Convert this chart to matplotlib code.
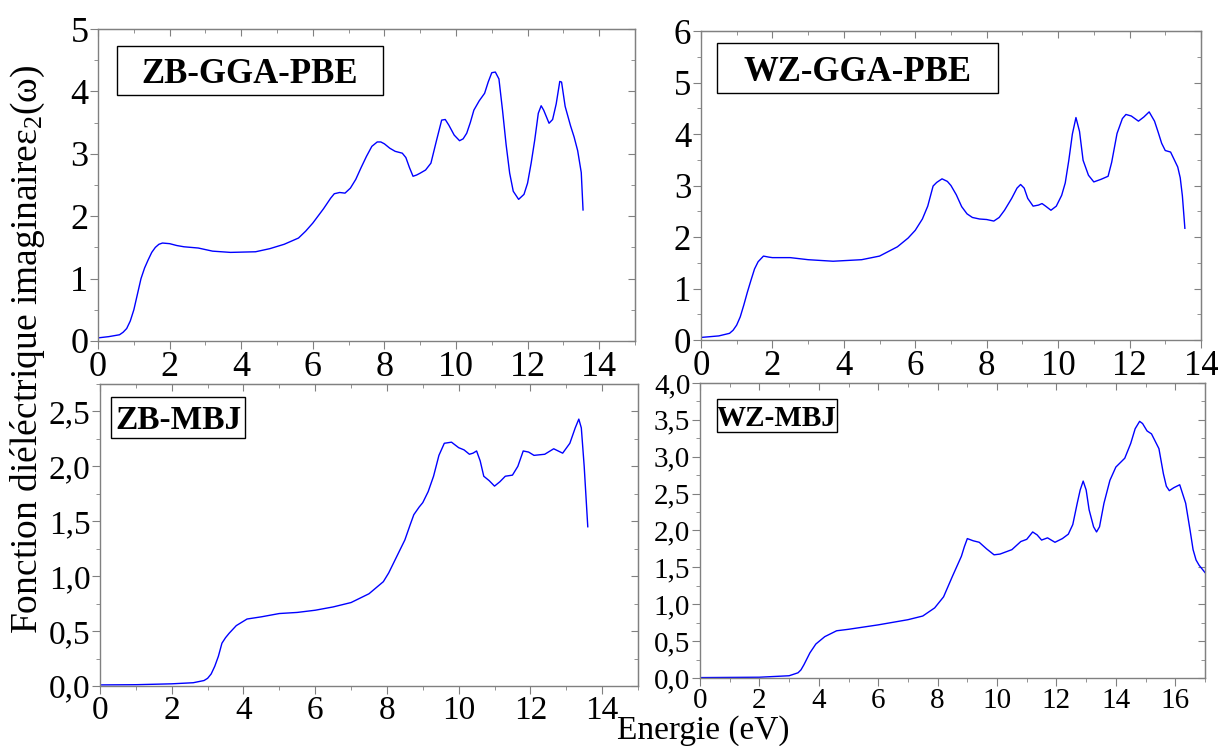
import numpy as np
import matplotlib
matplotlib.use('Agg')
import matplotlib.pyplot as plt
from matplotlib.patches import Rectangle
from matplotlib.ticker import MultipleLocator, FixedLocator

rc = {'font.family': ['Liberation Serif', 'DejaVu Serif'],
      'mathtext.fontset': 'custom', 'mathtext.rm': 'Liberation Serif',
      'mathtext.it': 'Liberation Serif'}
plt.rcParams.update(rc)

# ZB-GGA-PBE
zb_gga_e = [0, 0.3, 0.6, 0.7, 0.8, 0.9, 1.0, 1.1, 1.2, 1.3, 1.4, 1.5, 1.6,
            1.7, 1.8, 2.0, 2.2, 2.4, 2.8, 3.2, 3.7, 4.4, 4.8, 5.2, 5.6, 5.8,
            6.0, 6.3, 6.5, 6.6, 6.75, 6.9, 7.05, 7.2, 7.35, 7.5, 7.65, 7.8,
            7.9, 8.0, 8.15, 8.3, 8.5, 8.6, 8.7, 8.8, 8.9, 9.0, 9.15, 9.3,
            9.45, 9.6, 9.7, 9.8, 9.95, 10.1, 10.2, 10.3, 10.4, 10.5, 10.65,
            10.8, 10.9, 11.0, 11.1, 11.2, 11.3, 11.4, 11.5, 11.6, 11.75, 11.9,
            12.0, 12.1, 12.2, 12.3, 12.38, 12.45, 12.6, 12.7, 12.8, 12.9,
            12.95, 13.05, 13.2, 13.3, 13.4, 13.5, 13.55]
zb_gga_eps = [0.05, 0.07, 0.1, 0.14, 0.2, 0.32, 0.5, 0.75, 1.0, 1.17, 1.3,
              1.42, 1.5, 1.55, 1.57, 1.56, 1.53, 1.51, 1.49, 1.44, 1.42, 1.43,
              1.48, 1.55, 1.65, 1.76, 1.89, 2.12, 2.29, 2.36, 2.38, 2.37, 2.45,
              2.59, 2.78, 2.96, 3.12, 3.19, 3.19, 3.16, 3.09, 3.04, 3.01, 2.94,
              2.78, 2.64, 2.66, 2.69, 2.74, 2.85, 3.2, 3.54, 3.55, 3.46, 3.3,
              3.21, 3.24, 3.33, 3.5, 3.7, 3.85, 3.97, 4.15, 4.3, 4.31, 4.2,
              3.7, 3.15, 2.69, 2.4, 2.27, 2.35, 2.53, 2.85, 3.22, 3.65, 3.77,
              3.7, 3.49, 3.55, 3.8, 4.16, 4.15, 3.76, 3.45, 3.27, 3.05, 2.7,
              2.1]

# WZ-GGA-PBE
wz_gga_e = [0, 0.5, 0.8, 0.9, 1.0, 1.1, 1.2, 1.3, 1.4, 1.5, 1.6, 1.75, 1.9,
            2.0, 2.5, 3.0, 3.7, 4.5, 5.0, 5.5, 5.8, 6.0, 6.2, 6.35, 6.5, 6.6,
            6.75, 6.9, 7.0, 7.15, 7.3, 7.45, 7.6, 7.8, 8.0, 8.2, 8.35, 8.5,
            8.7, 8.85, 8.95, 9.05, 9.15, 9.3, 9.45, 9.55, 9.65, 9.8, 9.95,
            10.1, 10.2, 10.3, 10.4, 10.5, 10.6, 10.7, 10.85, 11.0, 11.2, 11.4,
            11.5, 11.65, 11.8, 11.9, 12.05, 12.25, 12.4, 12.55, 12.7, 12.8,
            12.9, 13.0, 13.15, 13.35, 13.42, 13.48, 13.55]
wz_gga_eps = [0.05, 0.08, 0.13, 0.19, 0.29, 0.45, 0.68, 0.93, 1.16, 1.38,
              1.52, 1.63, 1.61, 1.6, 1.6, 1.56, 1.53, 1.56, 1.63, 1.81, 1.98,
              2.13, 2.35, 2.6, 2.99, 3.06, 3.13, 3.08, 3.0, 2.82, 2.59, 2.45,
              2.38, 2.35, 2.34, 2.31, 2.38, 2.52, 2.75, 2.95, 3.02, 2.95, 2.75,
              2.6, 2.62, 2.65, 2.6, 2.52, 2.6, 2.81, 3.05, 3.49, 4.0, 4.32,
              4.05, 3.49, 3.2, 3.07, 3.12, 3.18, 3.45, 4.01, 4.3, 4.38, 4.35,
              4.25, 4.33, 4.43, 4.25, 4.04, 3.82, 3.68, 3.65, 3.36, 3.15, 2.8,
              2.17]

# ZB-MBJ
zb_mbj_e = [0, 1.0, 2.0, 2.6, 2.9, 3.0, 3.1, 3.2, 3.3, 3.4, 3.5, 3.6, 3.8,
            4.1, 4.5, 5.0, 5.5, 6.0, 6.5, 7.0, 7.5, 7.9, 8.05, 8.2, 8.5, 8.65,
            8.75, 8.9, 9.0, 9.15, 9.3, 9.45, 9.6, 9.8, 10.0, 10.15, 10.3,
            10.4, 10.5, 10.6, 10.7, 10.85, 11.0, 11.15, 11.3, 11.5, 11.65,
            11.8, 11.95, 12.1, 12.4, 12.65, 12.9, 13.1, 13.25, 13.35, 13.42,
            13.5, 13.6]
zb_mbj_eps = [0.01, 0.012, 0.02, 0.03, 0.05, 0.07, 0.11, 0.18, 0.27, 0.39,
              0.44, 0.48, 0.55, 0.61, 0.63, 0.66, 0.67, 0.69, 0.72, 0.76, 0.84,
              0.95, 1.03, 1.13, 1.33, 1.47, 1.56, 1.63, 1.67, 1.77, 1.91, 2.1,
              2.21, 2.22, 2.17, 2.15, 2.11, 2.12, 2.14, 2.05, 1.91, 1.87, 1.82,
              1.86, 1.91, 1.92, 2.0, 2.14, 2.13, 2.1, 2.11, 2.16, 2.12, 2.21,
              2.35, 2.43, 2.35, 2.0, 1.45]

# WZ-MBJ
wz_mbj_e = [0, 2.0, 3.0, 3.3, 3.4, 3.5, 3.6, 3.7, 3.9, 4.2, 4.6, 5.0, 6.0,
            7.0, 7.5, 7.9, 8.2, 8.5, 8.8, 8.9, 9.0, 9.2, 9.4, 9.65, 9.9, 10.1,
            10.3, 10.5, 10.8, 11.0, 11.2, 11.35, 11.5, 11.7, 11.95, 12.2,
            12.4, 12.55, 12.7, 12.8, 12.9, 13.0, 13.1, 13.25, 13.35, 13.45,
            13.6, 13.8, 14.0, 14.3, 14.5, 14.65, 14.8, 14.9, 15.05, 15.2,
            15.45, 15.6, 15.7, 15.8, 15.95, 16.15, 16.35, 16.5, 16.6, 16.7,
            16.8, 17.0]
wz_mbj_eps = [0.005, 0.01, 0.03, 0.07, 0.11, 0.18, 0.26, 0.34, 0.46, 0.56,
              0.64, 0.66, 0.72, 0.79, 0.84, 0.95, 1.1, 1.38, 1.65, 1.78, 1.89,
              1.86, 1.84, 1.75, 1.67, 1.68, 1.71, 1.74, 1.85, 1.88, 1.98, 1.94,
              1.87, 1.9, 1.84, 1.89, 1.95, 2.08, 2.37, 2.55, 2.67, 2.55, 2.28,
              2.05, 1.98, 2.05, 2.37, 2.68, 2.86, 2.98, 3.18, 3.38, 3.48, 3.45,
              3.35, 3.31, 3.11, 2.77, 2.6, 2.54, 2.58, 2.62, 2.37, 2.0, 1.74,
              1.6, 1.53, 1.43]

titles = ['ZB-GGA-PBE', 'WZ-GGA-PBE', 'ZB-MBJ', 'WZ-MBJ']
xticks_14 = [0, 2, 4, 6, 8, 10, 12, 14]
xticks_16 = [0, 2, 4, 6, 8, 10, 12, 14, 16]
yticks_top_left = [0, 1, 2, 3, 4, 5]
yticks_top_right = [0, 1, 2, 3, 4, 5, 6]
yticks_bl = [0.0, 0.5, 1.0, 1.5, 2.0, 2.5]
ylabels_bl = ['0,0', '0,5', '1,0', '1,5', '2,0', '2,5']
yticks_br = [0.0, 0.5, 1.0, 1.5, 2.0, 2.5, 3.0, 3.5, 4.0]
ylabels_br = ['0,0', '0,5', '1,0', '1,5', '2,0', '2,5', '3,0', '3,5', '4,0']

fig = plt.figure(figsize=(12.18, 7.46), dpi=100)
ax_tl = fig.add_axes([0.0805, 0.5429, 0.4408, 0.4182])
ax_tr = fig.add_axes([0.5755, 0.5442, 0.4105, 0.4142])
ax_bl = fig.add_axes([0.0821, 0.0804, 0.4417, 0.4049])
ax_br = fig.add_axes([0.5747, 0.0912, 0.4146, 0.3954])

spine_col = '#808080'


def style_axis(ax, x, y, xlim, ylim, xticks, yticks, ylabels, xminor, yminor,
               fs, title, box, box_fs):
    ax.plot(x, y, color='#0000ff', lw=1.0)
    ax.set_xlim(xlim)
    ax.set_ylim(ylim)
    ax.set_xticks(xticks)
    ax.set_yticks(yticks)
    if ylabels is not None:
        ax.set_yticklabels(ylabels)
    ax.xaxis.set_minor_locator(MultipleLocator(xminor))
    ax.yaxis.set_minor_locator(MultipleLocator(yminor))
    ax.tick_params(which='both', direction='out', color=spine_col,
                   labelsize=fs, pad=1, top=False, right=False)
    ax.tick_params(which='major', length=6)
    ax.tick_params(which='minor', length=3)
    for s in ax.spines.values():
        s.set_color(spine_col)
        s.set_linewidth(1.0)
    # inward ticks on top and right
    top = ax.secondary_xaxis('top')
    top.xaxis.set_major_locator(FixedLocator(xticks))
    top.xaxis.set_minor_locator(MultipleLocator(xminor))
    top.tick_params(which='both', direction='in', color=spine_col,
                    labeltop=False)
    top.tick_params(which='major', length=5)
    top.tick_params(which='minor', length=3)
    top.spines['top'].set_color(spine_col)
    right = ax.secondary_yaxis('right')
    right.yaxis.set_major_locator(FixedLocator(yticks))
    right.yaxis.set_minor_locator(MultipleLocator(yminor))
    right.tick_params(which='both', direction='in', color=spine_col,
                      labelright=False)
    right.tick_params(which='major', length=5)
    right.tick_params(which='minor', length=3)
    right.spines['right'].set_color(spine_col)
    # label box: (x0, y0, x1, y1) in axes fraction
    x0, y0, x1, y1 = box
    ax.add_patch(Rectangle((x0, y0), x1 - x0, y1 - y0, transform=ax.transAxes,
                           fc='white', ec='black', lw=1.0, zorder=3))
    ax.text((x0 + x1) / 2, (y0 + y1) / 2, title, transform=ax.transAxes,
            ha='center', va='center_baseline', fontsize=box_fs,
            fontweight='bold', zorder=4)


style_axis(ax_tl, zb_gga_e, zb_gga_eps, (0, 15), (0, 5), xticks_14,
           yticks_top_left, None, 1, 0.5, 26, titles[0],
           (0.035, 0.7885, 0.531, 0.9455), 25)
style_axis(ax_tr, wz_gga_e, wz_gga_eps, (0, 14), (0, 6), xticks_14,
           yticks_top_right, None, 1, 0.5, 25, titles[1],
           (0.032, 0.799, 0.594, 0.961), 25)
style_axis(ax_bl, zb_mbj_e, zb_mbj_eps, (0, 15), (0, 2.75), xticks_14,
           yticks_bl, ylabels_bl, 1, 0.25, 24, titles[2],
           (0.020, 0.821, 0.270, 0.957), 24)
style_axis(ax_br, wz_mbj_e, wz_mbj_eps, (0, 17), (0, 4.0), xticks_16,
           yticks_br, ylabels_br, 1, 0.25, 21, titles[3],
           (0.034, 0.834, 0.271, 0.946), 21)

fig.text(0.023, 0.531, r'Fonction diéléctrique imaginaire$\varepsilon_2$(ω)',
         rotation=90, ha='center', va='center', fontsize=27)
fig.text(0.577, 0.020, 'Energie (eV)', ha='center', va='center', fontsize=24)

fig.savefig('out.png', dpi=100)
